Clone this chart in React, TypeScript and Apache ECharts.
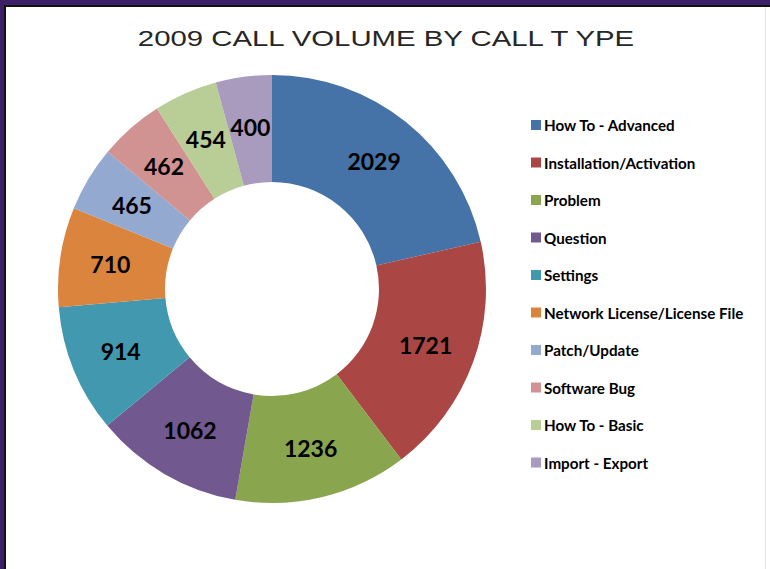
import React, { useEffect, useRef } from "react";
import * as echarts from "echarts";

const categories = [
  "How To - Advanced",
  "Installation/Activation",
  "Problem",
  "Question",
  "Settings",
  "Network License/License File",
  "Patch/Update",
  "Software Bug",
  "How To - Basic",
  "Import - Export",
];
const values = [2029, 1721, 1236, 1062, 914, 710, 465, 462, 454, 400];
const colors = [
  "#4572A7",
  "#AA4643",
  "#89A54E",
  "#71588F",
  "#4198AF",
  "#DB843D",
  "#93A9CF",
  "#D19392",
  "#B9CD96",
  "#A99BBD",
];
const titleText = "2009 CALL VOLUME BY CALL T YPE";

export default function App() {
  const ref = useRef<HTMLDivElement>(null);
  useEffect(() => {
    if (!ref.current) return;
    const chart = echarts.init(ref.current, undefined, { renderer: "svg" });
    chart.setOption({
      animation: false,
      backgroundColor: "#ffffff",
      color: colors,
      legend: {
        orient: "vertical",
        left: 531,
        top: 117,
        padding: 0,
        itemWidth: 10,
        itemHeight: 10,
        itemGap: 21.5,
        icon: "rect",
        data: categories,
        textStyle: {
          fontFamily: "Lato, sans-serif",
          fontWeight: "bold",
          fontSize: 15.2,
          lineHeight: 16,
          color: "#000000",
          padding: [0, 0, 0, -2],
        },
      },
      graphic: [
        {
          type: "text",
          x: 386,
          y: 38.5,
          scaleX: 1.365,
          style: {
            text: titleText,
            fontFamily: "Liberation Sans, Arial, sans-serif",
            fontSize: 21.5,
            fill: "#262626",
            textAlign: "center",
            textVerticalAlign: "middle",
          },
        },
        { type: "rect", shape: { x: 0, y: 0, width: 770, height: 5 }, style: { fill: "#3D2168" }, z: 100 },
        { type: "rect", shape: { x: 0, y: 5, width: 770, height: 2 }, style: { fill: "#111111" }, z: 100 },
        { type: "rect", shape: { x: 0, y: 0, width: 4, height: 569 }, style: { fill: "#3D2168" }, z: 100 },
        { type: "rect", shape: { x: 4, y: 5, width: 2, height: 564 }, style: { fill: "#111111" }, z: 100 },
        { type: "rect", shape: { x: 765, y: 7, width: 1, height: 562 }, style: { fill: "#e6e6e6" }, z: 100 },
      ],
      series: [
        {
          type: "pie",
          center: [272, 289],
          radius: [107, 214],
          startAngle: 90,
          clockwise: true,
          avoidLabelOverlap: false,
          data: categories.map((name, i) => ({ name, value: values[i] })),
          label: {
            show: true,
            position: "inside",
            formatter: "{c}",
            fontFamily: "Lato, sans-serif",
            fontWeight: "bold",
            fontSize: 23,
            color: "#000000",
          },
          labelLine: { show: false },
          itemStyle: { borderWidth: 0 },
          emphasis: { disabled: true },
        },
      ],
    });
    return () => chart.dispose();
  }, []);
  return (
    <div
      ref={ref}
      style={{ position: "fixed", left: 0, top: 0, width: 770, height: 569 }}
    />
  );
}
